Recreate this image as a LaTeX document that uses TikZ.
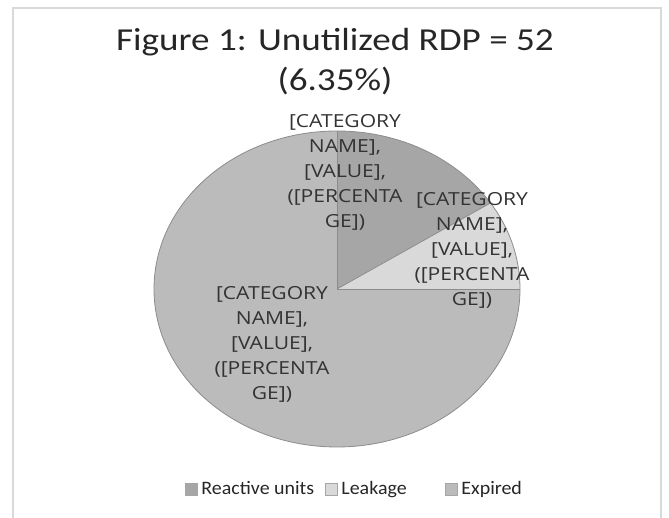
\documentclass[tikz,border=0pt]{standalone}
\usepackage{fontspec}
\setmainfont{Carlito}
\newfontfamily\lblfont{Open Sans}
\usetikzlibrary{positioning}
\definecolor{reactfill}{RGB}{166,166,166}
\definecolor{leakfill}{RGB}{217,217,217}
\definecolor{expfill}{RGB}{187,187,187}
\definecolor{framecol}{RGB}{217,217,217}
\begin{document}
\begin{tikzpicture}[x=1pt,y=1pt]
	\tikzset{
	slice/.style={draw=black!45, line width=.8pt},
	catlabel/.style={font=\lblfont\fontsize{18}{25}\selectfont, align=center, text=black!80, xscale=1.17, inner sep=0pt},
	keybox/.style={draw=black!35, minimum size=12pt, inner sep=0pt},
	keytext/.style={font=\fontsize{19}{19}\selectfont, text=black!85, xscale=1.05, inner sep=0pt, text height=14pt, text depth=2pt, right=4pt of #1}
}

\useasboundingbox (0,0) rectangle (669,518);
\draw[framecol, line width=1.5pt] (13,-5) |- (661,510) -- (661,-5);

\coordinate (c) at (337,229);
\fill[expfill] (c) -- ([shift={(0:183 and 158)}]c) arc[start angle=0, end angle=-270, x radius=183, y radius=158] -- cycle;
\fill[reactfill] (c) -- ([shift={(90:183 and 158)}]c) arc[start angle=90, end angle=33, x radius=183, y radius=158] -- cycle;
\fill[leakfill] (c) -- ([shift={(33:183 and 158)}]c) arc[start angle=33, end angle=0, x radius=183, y radius=158] -- cycle;
\draw[slice] (c) ellipse[x radius=183, y radius=158];
\draw[slice] (c) -- ([shift={(90:183 and 158)}]c);
\draw[slice] (c) -- ([shift={(33:183 and 158)}]c);
\draw[slice] (c) -- ([shift={(0:183 and 158)}]c);

\node[font=\fontsize{32}{40}\selectfont, align=center, text=black!85, xscale=1.16] (title) at (335,456) {Figure 1: Unutilized RDP = 52\\(6.35\%)};

\node[catlabel] (lblreact) at (345,346) {[CATEGORY\\NAME],\\{[VALUE]},\\([PERCENTA\\GE])};
\node[catlabel] (lblleak) at (472,268) {[CATEGORY\\NAME],\\{[VALUE]},\\([PERCENTA\\GE])};
\node[catlabel] (lblexp) at (272,174) {[CATEGORY\\NAME],\\{[VALUE]},\\([PERCENTA\\GE])};

\node[keybox, fill=reactfill] (boxreact) at (191,29) {};
\node[keytext=boxreact] (keyreact) {Reactive units};
\node[keybox, fill=leakfill] (boxleak) at (331,29) {};
\node[keytext=boxleak] (keyleak) {Leakage};
\node[keybox, fill=expfill] (boxexp) at (451,29) {};
\node[keytext=boxexp] (keyexp) {Expired};
\end{tikzpicture}
\end{document}
